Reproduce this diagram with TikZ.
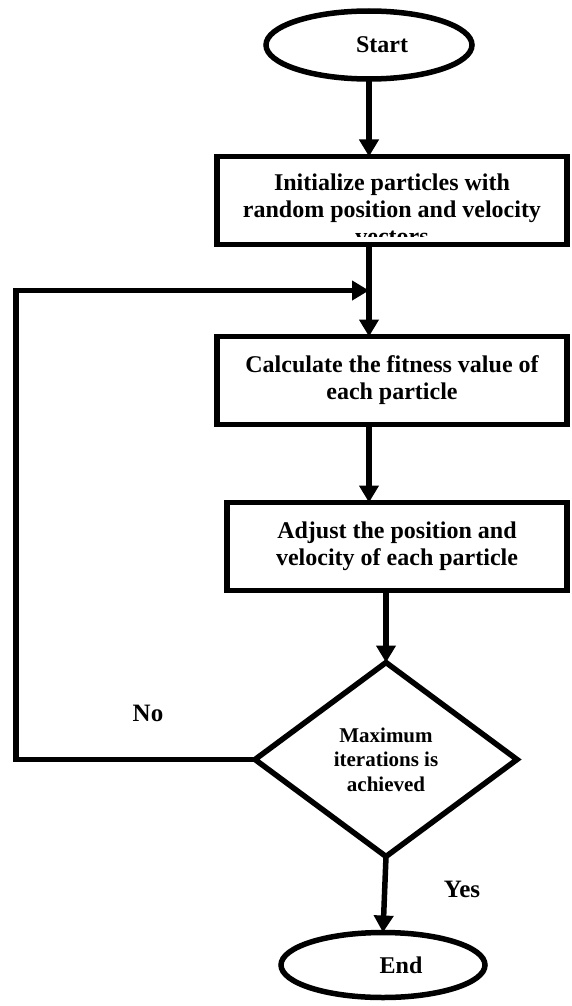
\documentclass[tikz,border=0pt]{standalone}
\usepackage{fontspec}
\setmainfont{Liberation Serif}
\usetikzlibrary{arrows.meta,positioning,shapes.geometric,calc}

\begin{document}
\begin{tikzpicture}[
  font=\bfseries\fontsize{12}{13.5}\selectfont,
  term/.style={draw, ellipse, line width=2.75pt, outer sep=0pt, inner sep=0pt, minimum width=103pt, minimum height=34pt},
  proc/.style={draw, line width=2.75pt, outer sep=0pt, inner sep=0pt, minimum height=44pt, align=center},
  boxtext/.style={align=center, inner sep=0pt},
  decision/.style={draw, diamond, aspect=1.35, line width=2.75pt, outer sep=0pt, inner sep=0pt, minimum width=131pt, minimum height=97pt, align=center, font=\bfseries\fontsize{10.5}{12.25}\selectfont},
  arrow/.style={-{Triangle[length=8.5pt, width=9.5pt]}, line width=2.75pt},
  lbl/.style={font=\bfseries\fontsize{12.5}{14}\selectfont}
]
\useasboundingbox (0,0) rectangle (286pt,-503pt);

\node[term] (start) at (184.5pt,-22.5pt) {\hspace*{13pt}Start};
\node[proc, below=38.75pt of start, xshift=11.5pt, minimum width=175pt] (init) {};
\begin{scope}
  \clip ($(init.south west)+(1.4pt,4pt)$) rectangle ($(init.north east)+(-1.4pt,-1.4pt)$);
  \node[boxtext, yshift=-4.5pt] (initText) at (init) {Initialize particles with\\random position and velocity\\vectors};
\end{scope}
\node[proc, below=46pt of init, minimum width=175pt] (calc) {Calculate the fitness value of\\each particle};
\node[proc, below=39pt of calc, xshift=2.5pt, minimum width=170pt] (adjust) {Adjust the position and\\velocity of each particle};
\node[decision, below=36pt of adjust, xshift=-5.5pt] (dec) {Maximum\\iterations is\\achieved};
\node[term, below=38pt of dec, xshift=-1.5pt, minimum width=102pt, minimum height=32.5pt] (end) {\hspace*{18pt}End};

\node[lbl] (no) at ($(dec.west)+(-53.5pt,23pt)$) {No};
\node[lbl] (yes) at ($(dec.south)+(38pt,-16.5pt)$) {Yes};

% connectors
\path (init.south) -- (calc.north) coordinate[midway] (mid);
\coordinate (loopx) at (8pt,0);
\draw[arrow] (start.south) -- (start |- init.north);
\draw[arrow] (start |- init.south) -- (start |- calc.north);
\draw[arrow] (start |- calc.south) -- (start |- adjust.north);
\draw[arrow] (adjust.south -| dec.north) -- (dec.north);
\draw[arrow] (dec.south) -- (end.north);
\draw[arrow] (dec.west) -- (dec.west -| loopx) |- (start |- mid);

\end{tikzpicture}
\end{document}
